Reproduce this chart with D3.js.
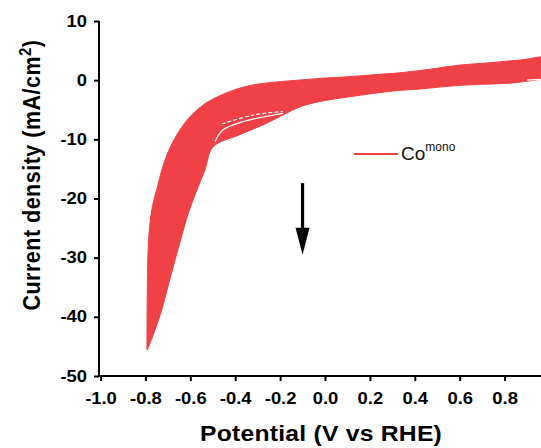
<!DOCTYPE html>
<html>
<head>
<meta charset="utf-8">
<script src="https://cdn.jsdelivr.net/npm/d3@7"></script>
<style>
  html, body { margin: 0; padding: 0; background: #fff; }
  svg { display: block; font-family: "Liberation Sans", Arial, sans-serif; }
</style>
</head>
<body>
<div id="chart"></div>
<script>
// outer edge of the cycle band (cathodic tip up to the anodic end)
const potentialUpper = [-0.793, -0.792, -0.789, -0.784, -0.776, -0.764, -0.748, -0.727, -0.695, -0.646, -0.594, -0.543, -0.505, -0.454, -0.401, -0.334, -0.267, -0.200, -0.111, -0.022, 0.111, 0.245, 0.334, 0.467, 0.601, 0.735, 0.869, 1.0];
const currentUpper = [-45.6, -37.2, -30.0, -26.0, -23.0, -20.5, -18.3, -15.2, -11.8, -8.4, -5.9, -4.2, -3.3, -2.4, -1.6, -0.9, -0.5, -0.25, 0.03, 0.3, 0.6, 1.0, 1.25, 1.85, 2.55, 2.95, 3.4, 3.7];

// inner edge of the band (anodic end back down to the tip)
const potentialLower = [1.0, 0.962, 0.824, 0.690, 0.557, 0.423, 0.312, 0.111, -0.022, -0.111, -0.178, -0.267, -0.379, -0.499, -0.535, -0.571, -0.610, -0.638, -0.668, -0.698, -0.727, -0.757, -0.787];
const currentLower = [0.4, 0.15, -0.5, -0.7, -1.0, -1.5, -1.8, -2.8, -3.6, -4.5, -5.7, -7.4, -9.2, -11.3, -15.2, -18.6, -22.6, -26.3, -30.4, -34.6, -38.8, -42.2, -45.2];

// thin gaps between cycles
const gap1Potential = [-0.460, -0.321, -0.187];
const gap1Current = [-7.4, -5.9, -5.3];
const gap2Potential = [-0.490, -0.454, -0.365, -0.187];
const gap2Current = [-10.4, -8.4, -7.0, -5.6];
const gap3Potential = [0.90, 0.96];
const gap3Current = [0.0, 0.15];

const xTicks = [-1.0, -0.8, -0.6, -0.4, -0.2, 0.0, 0.2, 0.4, 0.6, 0.8];
const yTicks = [10, 0, -10, -20, -30, -40, -50];

// scan direction arrow
const arrowPotential = -0.1;
const arrowFrom = -17.4;
const arrowTo = -29.5;

const seriesName = 'Co';
const seriesSup = 'mono';

const width = 541;
const height = 448;
const marginLeft = 100.5;
const marginTop = 21;
const plotBottom = 376;
const red = '#ef4146';
const stretch = 1.15;

const zip = (xs, ys) => xs.map((x, i) => [x, ys[i]]);
// plain hyphen like the original, not the unicode minus
const fmtX = d => d3.format('.1f')(d).replace('\u2212', '-');
const fmtY = d => String(d);

const x = d3.scaleLinear().domain([-1, 1]).range([marginLeft, marginLeft + 449]);
const y = d3.scaleLinear().domain([-50, 10]).range([plotBottom, marginTop]);

const svg = d3.select('#chart').append('svg')
  .attr('width', width)
  .attr('height', height);

const line = d3.line()
  .x(d => x(d[0]))
  .y(d => y(d[1]))
  .curve(d3.curveCatmullRom.alpha(0.5));

// band
const band = zip(potentialUpper, currentUpper).concat(zip(potentialLower, currentLower));
svg.append('path')
  .attr('d', line(band) + 'Z')
  .attr('fill', red)
  .attr('stroke', red)
  .attr('stroke-width', 1);

svg.append('path')
  .attr('d', line(zip(gap1Potential, gap1Current)))
  .attr('fill', 'none')
  .attr('stroke', '#fff')
  .attr('stroke-width', 1.2)
  .attr('stroke-dasharray', '4 2');
svg.append('path')
  .attr('d', line(zip(gap2Potential, gap2Current)))
  .attr('fill', 'none')
  .attr('stroke', '#fff')
  .attr('stroke-width', 1.3);
svg.append('path')
  .attr('d', line(zip(gap3Potential, gap3Current)))
  .attr('fill', 'none')
  .attr('stroke', '#fff')
  .attr('stroke-width', 1.2);

// axes
const xAxis = svg.append('g')
  .attr('transform', `translate(0,${plotBottom})`)
  .call(d3.axisBottom(x).tickValues(xTicks).tickSize(5).tickPadding(12).tickFormat(fmtX));
const yAxis = svg.append('g')
  .attr('transform', `translate(${marginLeft - 1.5},0)`)
  .call(d3.axisLeft(y).tickValues(yTicks).tickSize(5).tickPadding(7).tickFormat(fmtY));

[xAxis, yAxis].forEach(g => {
  g.select('.domain').attr('stroke', '#000').attr('stroke-width', 2);
  g.selectAll('.tick line').attr('stroke', '#000').attr('stroke-width', 2);
  g.selectAll('.tick text')
    .attr('fill', '#000')
    .attr('font-size', 16)
    .attr('font-weight', 'bold')
    .attr('font-family', '"Liberation Sans", Arial, sans-serif');
});
xAxis.select('.domain').attr('d', `M${marginLeft - 1.5},0H${width}`);
xAxis.selectAll('.tick text').each(function() {
  const t = d3.select(this);
  const ty = +t.attr('y');
  t.attr('y', 0).attr('transform', `translate(0,${ty}) scale(${stretch},1)`);
});
yAxis.selectAll('.tick text').each(function() {
  const t = d3.select(this);
  const tx = +t.attr('x');
  t.attr('x', 0).attr('transform', `translate(${tx},0) scale(${stretch},1)`);
});
yAxis.select('.domain').attr('d', `M0,${y(10)}V${plotBottom}`);

// axis titles
svg.append('text')
  .attr('transform', `translate(321,441) scale(${stretch},1)`)
  .attr('text-anchor', 'middle')
  .attr('font-size', 21.5)
  .attr('font-weight', 'bold')
  .attr('letter-spacing', 0.2)
  .text('Potential (V vs RHE)');

const yTitle = svg.append('text')
  .attr('transform', `translate(40,175) scale(${stretch},1) rotate(-90)`)
  .attr('text-anchor', 'middle')
  .attr('font-size', 21.5)
  .attr('font-weight', 'bold')
  .attr('letter-spacing', 0.5);
yTitle.append('tspan').text('Current density (mA/cm');
yTitle.append('tspan').attr('dy', -8).attr('font-size', 15).text('2');
yTitle.append('tspan').attr('dy', 8).text(')');

// legend
svg.append('line')
  .attr('x1', 354).attr('x2', 398)
  .attr('y1', 154).attr('y2', 154)
  .attr('stroke', red)
  .attr('stroke-width', 2);
const legendText = svg.append('text')
  .attr('x', 401)
  .attr('y', 160)
  .attr('font-size', 19)
  .attr('fill', '#111');
legendText.append('tspan').text(seriesName);
legendText.append('tspan').attr('dy', -9).attr('font-size', 12).text(seriesSup);

// arrow
const ax = x(arrowPotential);
const headTop = y(arrowTo) - 27;
svg.append('line')
  .attr('x1', ax).attr('x2', ax)
  .attr('y1', y(arrowFrom)).attr('y2', headTop + 2)
  .attr('stroke', '#000')
  .attr('stroke-width', 3.2);
svg.append('path')
  .attr('d', `M${ax - 7},${headTop}L${ax + 7},${headTop}L${ax},${y(arrowTo)}Z`)
  .attr('fill', '#000');
</script>
</body>
</html>
